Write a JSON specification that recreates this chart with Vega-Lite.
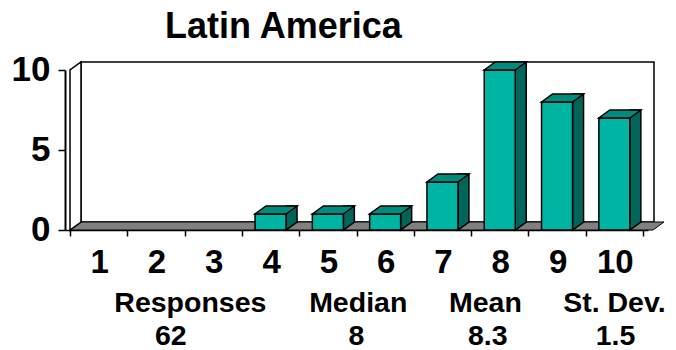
{
  "$schema": "https://vega.github.io/schema/vega-lite/v6.json",
  "autosize": "none",
  "width": 583,
  "height": 160,
  "padding": {"left": 65, "top": 70, "right": 28, "bottom": 120},
  "background": "white",
  "title": {
    "text": "Latin America",
    "font": "Liberation Sans",
    "fontSize": 36,
    "fontWeight": "bold",
    "color": "black",
    "anchor": "start",
    "frame": "group",
    "baseline": "alphabetic",
    "dx": 100,
    "dy": 32,
    "offset": 10
  },
  "config": {
    "view": {"stroke": null},
    "axis": {"grid": false, "title": null},
    "axisX": {
      "labelExpr": "datum.value < 10 ? format(datum.value + 0.5, 'd') : ''",
      "labelOffset": 29.15,
      "labelFlush": false,
      "labelBound": false,
      "labelOverlap": false,
      "labelFont": "Liberation Sans",
      "labelFontSize": 33,
      "labelFontWeight": "bold",
      "labelColor": "black",
      "labelPadding": 10,
      "tickSize": 6,
      "tickWidth": 1.5,
      "tickColor": "black",
      "domainColor": "black",
      "domainWidth": 1.5,
      "zindex": 1
    },
    "axisY": {
      "labelFont": "Liberation Sans",
      "labelFontSize": 35,
      "labelFontWeight": "bold",
      "labelColor": "black",
      "labelPadding": 8,
      "labelOffset": -1,
      "tickSize": 7,
      "tickWidth": 1.5,
      "tickColor": "black",
      "domainColor": "black",
      "domainWidth": 2,
      "zindex": 1
    }
  },
  "datasets": {
    "scores": [
      {"score": 1, "count": 0},
      {"score": 2, "count": 0},
      {"score": 3, "count": 0},
      {"score": 4, "count": 1},
      {"score": 5, "count": 1},
      {"score": 6, "count": 1},
      {"score": 7, "count": 3},
      {"score": 8, "count": 10},
      {"score": 9, "count": 8},
      {"score": 10, "count": 7}
    ],
    "stats": [
      {"stat": "Responses", "result": "62", "statAt": 2.6, "resultAt": 2.26},
      {"stat": "Median", "result": "8", "statAt": 5.53, "resultAt": 5.5},
      {"stat": "Mean", "result": "8.3", "statAt": 7.75, "resultAt": 7.79},
      {"stat": "St. Dev.", "result": "1.5", "statAt": 10.0, "resultAt": 10.02}
    ],
    "frame": [{}]
  },
  "layer": [
    {
      "description": "back wall",
      "data": {"name": "frame"},
      "mark": {"type": "rect", "fill": "white", "stroke": "black", "strokeWidth": 1.5, "xOffset": 11, "x2Offset": 11, "yOffset": -8, "y2Offset": -8},
      "encoding": {
        "x": {"datum": 0.5, "type": "quantitative", "scale": {"domain": [0.5, 10.5], "nice": false, "zero": false}},
        "x2": {"datum": 10.5},
        "y": {"datum": 0, "type": "quantitative", "scale": {"domain": [0, 10], "nice": false}},
        "y2": {"datum": 10}
      }
    },
    {
      "description": "floor",
      "data": {"name": "frame"},
      "mark": {"type": "point", "shape": "M0,0L583,0L594,-8L11,-8Z", "size": 4, "filled": true, "fill": "#808080", "stroke": "black", "strokeWidth": 1, "opacity": 1},
      "encoding": {
        "x": {"datum": 0.5, "type": "quantitative"},
        "y": {"datum": 0, "type": "quantitative"}
      }
    },
    {
      "description": "side wall",
      "data": {"name": "frame"},
      "mark": {"type": "point", "shape": "M0,0L0,-160L11,-168L11,-8Z", "size": 4, "filled": true, "fill": "white", "stroke": "black", "strokeWidth": 1.5, "opacity": 1},
      "encoding": {
        "x": {"datum": 0.5, "type": "quantitative"},
        "y": {"datum": 0, "type": "quantitative"}
      }
    },
    {
      "description": "bar side faces",
      "data": {"name": "scores"},
      "transform": [{"filter": "datum.count > 0"}],
      "mark": {"type": "bar", "width": 11, "xOffset": 21, "yOffset": -8, "y2Offset": -8, "fill": "#00665B", "stroke": "black", "strokeWidth": 1.5},
      "encoding": {
        "x": {"field": "score", "type": "quantitative"},
        "y": {"field": "count", "type": "quantitative"},
        "y2": {"datum": 0}
      }
    },
    {
      "description": "lower corner of the side faces",
      "data": {"name": "scores"},
      "transform": [{"filter": "datum.count > 0"}],
      "mark": {"type": "point", "shape": "M15.5,-9.5L15.5,0L26.5,-8L26.5,-9.5", "size": 4, "filled": true, "fill": "#00665B", "stroke": "black", "strokeWidth": 1.5, "opacity": 1},
      "encoding": {
        "x": {"field": "score", "type": "quantitative"},
        "y": {"datum": 0, "type": "quantitative"}
      }
    },
    {
      "description": "bar front faces, carrying the axes",
      "data": {"name": "scores"},
      "transform": [{"filter": "datum.count > 0"}],
      "mark": {"type": "bar", "width": 31, "fill": "#00B4A3", "stroke": "black", "strokeWidth": 1.5},
      "encoding": {
        "x": {"field": "score", "type": "quantitative", "axis": {"title": null, "values": [0.5, 1.5, 2.5, 3.5, 4.5, 5.5, 6.5, 7.5, 8.5, 9.5, 10.5]}},
        "y": {"field": "count", "type": "quantitative", "axis": {"title": null, "values": [0, 5, 10]}},
        "y2": {"datum": 0}
      }
    },
    {
      "description": "bar top faces",
      "data": {"name": "scores"},
      "transform": [{"filter": "datum.count > 0"}],
      "mark": {"type": "point", "shape": "M-15.5,0L15.5,0L26.5,-8L-4.5,-8Z", "size": 4, "filled": true, "fill": "#008B7D", "stroke": "black", "strokeWidth": 1.5, "opacity": 1},
      "encoding": {
        "x": {"field": "score", "type": "quantitative"},
        "y": {"field": "count", "type": "quantitative"}
      }
    },
    {
      "description": "summary headings",
      "data": {"name": "stats"},
      "mark": {"type": "text", "font": "Liberation Sans", "fontSize": 28.5, "fontWeight": "bold", "color": "black", "align": "center", "baseline": "alphabetic", "dy": 82},
      "encoding": {
        "x": {"field": "statAt", "type": "quantitative"},
        "y": {"datum": 0, "type": "quantitative"},
        "text": {"field": "stat"}
      }
    },
    {
      "description": "summary values",
      "data": {"name": "stats"},
      "mark": {"type": "text", "font": "Liberation Sans", "fontSize": 28.5, "fontWeight": "bold", "color": "black", "align": "center", "baseline": "alphabetic", "dy": 115},
      "encoding": {
        "x": {"field": "resultAt", "type": "quantitative"},
        "y": {"datum": 0, "type": "quantitative"},
        "text": {"field": "result"}
      }
    }
  ]
}
